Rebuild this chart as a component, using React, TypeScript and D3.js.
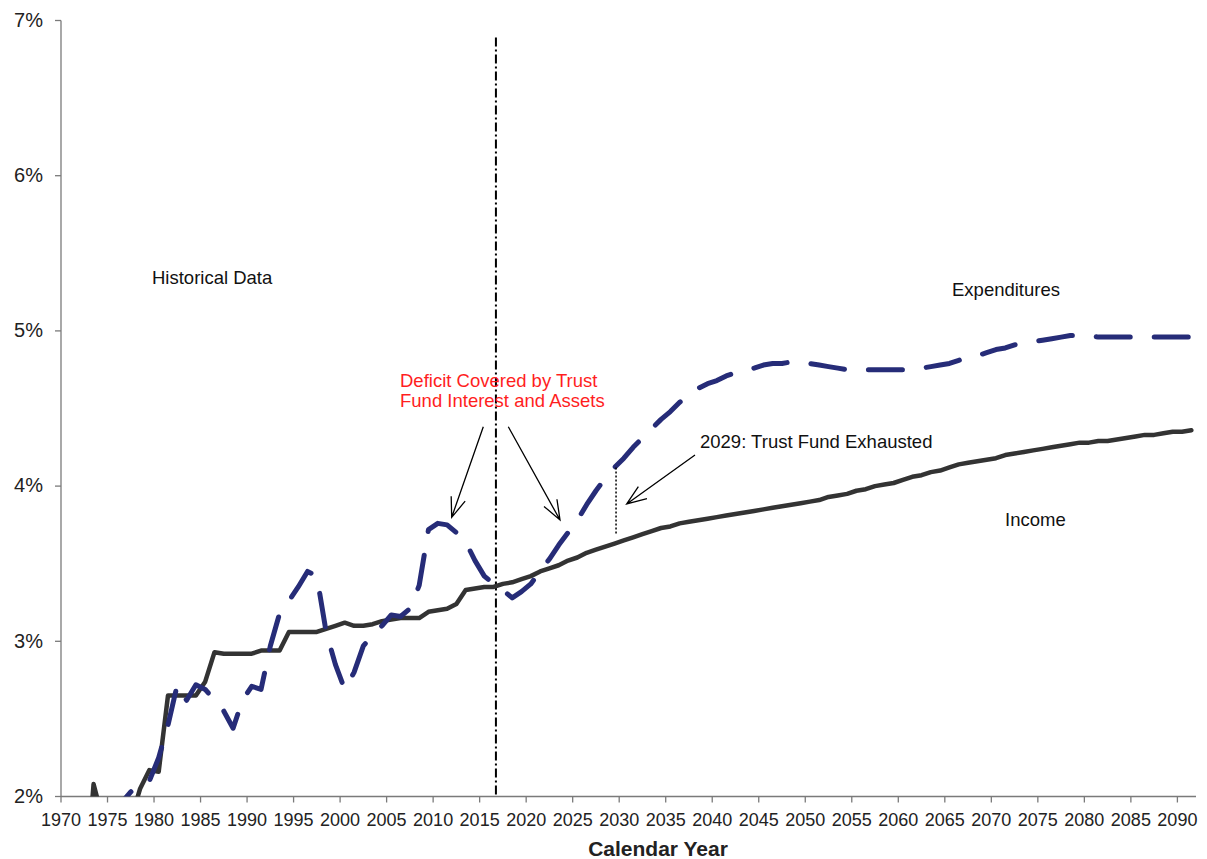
import React from 'react';
import * as d3 from 'd3';

// HI income and cost rates, percent of taxable payroll
const incomeStart = 1970;
const incomeRate = [
  1.25, 1.25, 1.3, 2.08, 1.85, 1.85, 1.85, 1.85, 2.05, 2.17, 2.16,
  2.65, 2.65, 2.65, 2.65, 2.74, 2.93, 2.92, 2.92, 2.92, 2.92,
  2.94, 2.94, 2.94, 3.06, 3.06, 3.06, 3.06, 3.08, 3.1, 3.12,
  3.1, 3.1, 3.11, 3.13, 3.14, 3.15, 3.15, 3.15, 3.19, 3.2,
  3.21, 3.24, 3.33, 3.34, 3.35, 3.35, 3.37, 3.38, 3.4, 3.42,
  3.45, 3.47, 3.49, 3.52, 3.54, 3.57, 3.59, 3.61, 3.63, 3.65,
  3.67, 3.69, 3.71, 3.73, 3.74, 3.76, 3.77, 3.78, 3.79, 3.8,
  3.81, 3.82, 3.83, 3.84, 3.85, 3.86, 3.87, 3.88, 3.89, 3.9,
  3.91, 3.93, 3.94, 3.95, 3.97, 3.98, 4.0, 4.01, 4.02, 4.04,
  4.06, 4.07, 4.09, 4.1, 4.12, 4.14, 4.15, 4.16, 4.17, 4.18,
  4.2, 4.21, 4.22, 4.23, 4.24, 4.25, 4.26, 4.27, 4.28, 4.28,
  4.29, 4.29, 4.3, 4.31, 4.32, 4.33, 4.33, 4.34, 4.35, 4.35,
  4.36,
];

const costStart = 1975;
const costRate = [
  1.85, 1.96, 2.03, 2.09, 2.1, 2.25,
  2.46, 2.72, 2.62, 2.72, 2.69, 2.62, 2.55, 2.44, 2.62, 2.71,
  2.69, 2.97, 3.18, 3.26, 3.35, 3.45, 3.42, 3.06, 2.85, 2.69,
  2.8, 2.97, 3.04, 3.1, 3.17, 3.16, 3.21, 3.36, 3.72, 3.76,
  3.75, 3.7, 3.64, 3.52, 3.42, 3.37, 3.33, 3.28, 3.32, 3.37,
  3.45, 3.53, 3.62, 3.7, 3.78, 3.88, 3.97, 4.05, 4.12, 4.18,
  4.25, 4.31, 4.37, 4.43, 4.48, 4.54, 4.59, 4.63, 4.66, 4.68,
  4.71, 4.73, 4.75, 4.76, 4.78, 4.79, 4.79, 4.8, 4.8, 4.79,
  4.78, 4.77, 4.76, 4.75, 4.75, 4.75, 4.75, 4.75, 4.75, 4.75,
  4.75, 4.76, 4.77, 4.78, 4.79, 4.81, 4.83, 4.84, 4.86, 4.88,
  4.89, 4.91, 4.92, 4.93, 4.94, 4.95, 4.96, 4.97, 4.97, 4.97,
  4.96, 4.96, 4.96, 4.96, 4.96, 4.96, 4.96, 4.96, 4.96, 4.96,
  4.96,
];

const xTicks = [1970, 1975, 1980, 1985, 1990, 1995, 2000, 2005, 2010, 2015, 2020, 2025, 2030,
  2035, 2040, 2045, 2050, 2055, 2060, 2065, 2070, 2075, 2080, 2085, 2090];
const yTicks = [2, 3, 4, 5, 6, 7];

const lastHistoricalYear = 2016;
const exhaustionYear = 2029;

const font = 'Liberation Sans, Arial, sans-serif';

type Pt = { year: number; v: number };

const toPoints = (start: number, vals: number[]): Pt[] => vals.map((v, i) => ({ year: start + i, v }));

export default function App() {
  const W = 1207, H = 859;
  const x = d3.scaleLinear().domain([1970, 2092]).range([61, 1196]);
  const y = d3.scaleLinear().domain([2, 7]).range([796.5, 20.5]);
  // each year is drawn in the middle of its slot
  const xp = (yr: number) => x(yr + 0.5);

  const line = d3.line<Pt>().x(d => xp(d.year)).y(d => y(d.v));
  const income = toPoints(incomeStart, incomeRate);
  const cost = toPoints(costStart, costRate);

  const arrow = (x1: number, y1: number, x2: number, y2: number) => {
    const a = Math.atan2(y1 - y2, x1 - x2);
    const len = 21, spread = 0.36;
    const w1 = [x2 + len * Math.cos(a - spread), y2 + len * Math.sin(a - spread)];
    const w2 = [x2 + len * Math.cos(a + spread), y2 + len * Math.sin(a + spread)];
    return `M${x1},${y1}L${x2},${y2}M${w1[0]},${w1[1]}L${x2},${y2}L${w2[0]},${w2[1]}`;
  };

  const exhIdx = exhaustionYear - costStart;
  const exhIncIdx = exhaustionYear - incomeStart;

  return (
    <svg width={W} height={H} style={{ position: 'absolute', left: 0, top: 0, background: '#fff' }}
      fontFamily={font}>
      <defs>
        <clipPath id="plot">
          <rect x={61} y={0} width={1140} height={796.5} />
        </clipPath>
      </defs>

      {/* axes */}
      <g stroke="#7a7a7a" strokeWidth={1.3}>
        <line x1={x(1970)} x2={x(1970)} y1={y(7)} y2={y(2)} />
        <line x1={x(1970)} x2={x(2092)} y1={y(2)} y2={y(2)} />
        {yTicks.map(t => (
          <line key={t} x1={x(1970) - 6} x2={x(1970)} y1={y(t)} y2={y(t)} />
        ))}
        {xTicks.map(t => (
          <line key={t} x1={x(t)} x2={x(t)} y1={y(2)} y2={y(2) + 6} />
        ))}
      </g>
      {yTicks.map(t => (
        <text key={t} x={43} y={y(t) + 1} textAnchor="end" dominantBaseline="middle"
          fontSize={20} fill="#222">{t}%</text>
      ))}
      {xTicks.map(t => (
        <text key={t} x={x(t)} y={826} textAnchor="middle" fontSize={18} fill="#222">{t}</text>
      ))}
      <text x={658} y={856} textAnchor="middle" fontSize={21} fontWeight="bold" fill="#222">
        Calendar Year
      </text>

      {/* historical / projection boundary */}
      <line x1={x(lastHistoricalYear + 0.75)} x2={x(lastHistoricalYear + 0.75)}
        y1={y(6.89)} y2={y(2)} stroke="#000" strokeWidth={2} strokeDasharray="9 3 2 3" />

      <g clipPath="url(#plot)" fill="none" strokeLinejoin="round" strokeLinecap="round">
        <path d={line(income) ?? ''} stroke="#333333" strokeWidth={4.5} />
        <path d={line(cost) ?? ''} stroke="#262c78" strokeWidth={5} strokeDasharray="34 24" />
      </g>

      {/* trust fund exhaustion marker */}
      <line x1={xp(exhaustionYear) + 1.5} x2={xp(exhaustionYear) + 1.5}
        y1={y(costRate[exhIdx]) } y2={y(incomeRate[exhIncIdx] + 0.06)}
        stroke="#000" strokeWidth={1.5} strokeDasharray="2 2" />

      <g stroke="#000" strokeWidth={1.3} fill="none">
        <path d={arrow(483.3, 426.7, 451.7, 517.3)} />
        <path d={arrow(508.3, 426.7, 560, 520)} />
        <path d={arrow(695, 455, 626.7, 504)} />
      </g>

      <g fontSize={18.5} fill="#111">
        <text x={152} y={284}>Historical Data</text>
        <text x={952} y={296}>Expenditures</text>
        <text x={1005} y={526}>Income</text>
        <text x={700} y={448}>2029: Trust Fund Exhausted</text>
      </g>
      <g fontSize={18.5} fill="#ff1e1e">
        <text x={400} y={387}>Deficit Covered by Trust</text>
        <text x={400} y={407}>Fund Interest and Assets</text>
      </g>
    </svg>
  );
}
